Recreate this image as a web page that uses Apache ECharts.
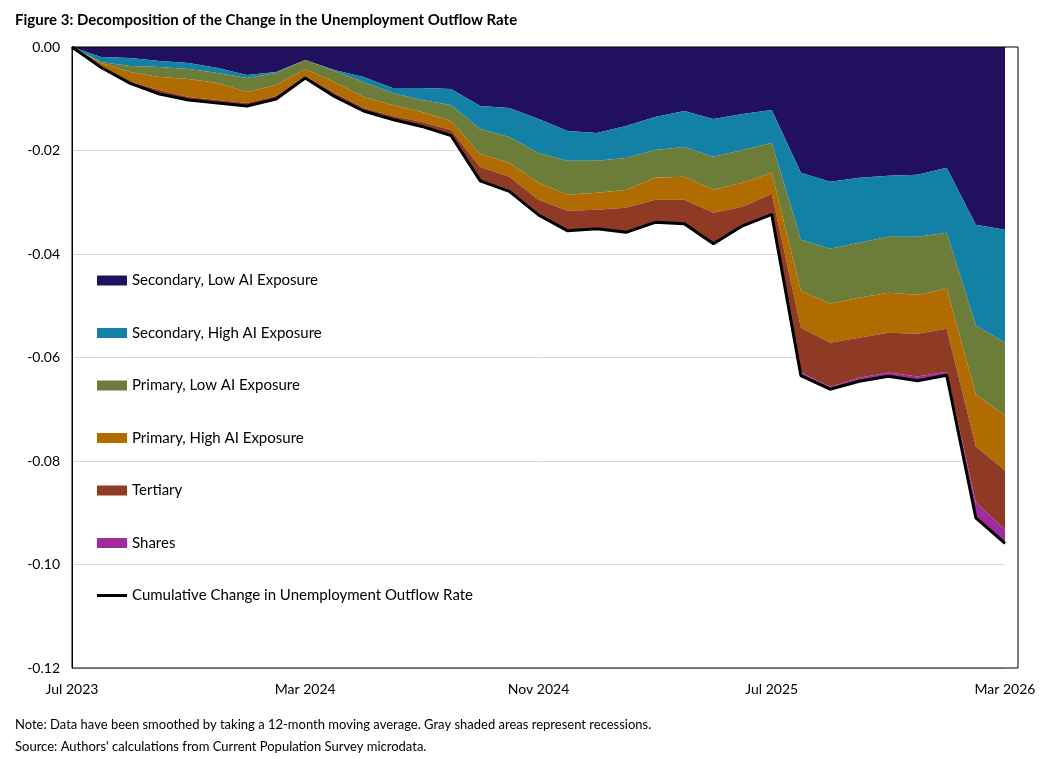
<!DOCTYPE html>
<html style="height: 100%">
<head>
<meta charset="utf-8">
<script src="https://cdn.jsdelivr.net/npm/echarts@6/dist/echarts.min.js"></script>
</head>
<body style="height: 100%; margin: 0; background: #fff">
<div id="container" style="width: 1044px; height: 759px"></div>
<script type="text/javascript">
// monthly, Jul 2023 .. Mar 2026 (values in thousandths, converted below)
var tickLabels = ['Jul 2023', 'Mar 2024', 'Nov 2024', 'Jul 2025', 'Mar 2026'];
var secLow  = [0,1.93,2.12,2.70,3.09,4.05,5.40,4.83,2.51,4.44,5.79,7.91,7.91,8.11,11.39,11.77,13.90,16.21,16.60,15.25,13.51,12.35,13.90,12.93,12.16,24.32,26.06,25.28,24.90,24.70,23.35,34.35,35.32];
var secHigh = [0,0.97,1.54,1.16,1.16,0.97,0.58,0.19,0,0.19,0.97,0.97,2.32,3.09,4.44,5.60,6.56,5.79,5.40,6.18,6.37,6.95,7.33,6.95,6.37,12.93,12.93,12.55,11.77,11.97,12.55,19.49,21.81];
var priLow  = [0,0.19,1.16,1.93,1.93,1.93,2.70,2.32,1.74,2.12,2.90,2.32,2.32,3.09,4.83,5.02,5.79,6.56,6.18,6.18,5.40,5.79,6.37,6.37,5.79,9.84,10.62,10.62,10.81,11.19,10.81,13.32,14.09];
var priHigh = [0,0.58,1.93,2.51,3.47,3.28,2.12,2.12,1.35,2.12,2.12,2.12,1.93,1.74,2.51,2.70,3.28,3.09,3.28,3.47,4.25,4.44,4.44,4.63,4.05,7.14,7.53,7.72,7.72,7.53,7.72,10.04,10.62];
var tertiary = [0,0.19,0.19,0.58,0.39,0.39,0.39,0.39,0.19,0.58,0.39,0.58,0.77,0.77,2.51,2.51,2.51,3.67,3.47,4.63,4.25,4.44,5.79,3.47,3.67,8.69,8.49,7.72,7.72,8.30,8.30,10.81,11.39];
var shares  = [0,0.1,0.1,0.2,0.2,0.2,0.2,0.2,0.2,0.1,0.2,0.1,0.1,0.3,0.2,0.3,0.4,0.2,0.2,0.1,0.1,0.2,0.2,0.2,0.3,0.6,0.5,0.7,0.7,0.8,0.7,3.0,2.7];

var names = ['Secondary, Low AI Exposure', 'Secondary, High AI Exposure', 'Primary, Low AI Exposure',
             'Primary, High AI Exposure', 'Tertiary', 'Shares'];
var parts = [secLow, secHigh, priLow, priHigh, tertiary, shares];
var colors = ['#21105e', '#1380a6', '#6b7d38', '#b06c00', '#8e3a24', '#a12a9e'];
var totalName = 'Cumulative Change in Unemployment Outflow Rate';

// month index categories; every 8th month gets a label
var months = secLow.map(function (v, i) { return i % 8 === 0 ? tickLabels[i / 8] : ''; });

function toVals(arr) {
    return arr.map(function (v) { return -v / 1000; });
}
var total = secLow.map(function (v, i) {
    var s = 0;
    parts.forEach(function (p) { s += p[i]; });
    return s;
});

var series = parts.map(function (p, k) {
    return {
        name: names[k], type: 'line', stack: 'dec', data: toVals(p),
        symbol: 'none', lineStyle: { width: 0 }, itemStyle: { color: colors[k] },
        areaStyle: { color: colors[k], opacity: 1 }
    };
});
series.push({
    name: totalName, type: 'line', data: toVals(total), symbol: 'none', z: 5,
    lineStyle: { width: 3, color: '#000' }, itemStyle: { color: '#000' }
});

var font = 'Lato, "Open Sans", sans-serif';
var legendData = names.map(function (n) { return { name: n, icon: 'rect' }; });
legendData.push({ name: totalName, icon: 'path://M0,0L0.01,0L0.01,0.01Z M0,3.5L30,3.5L30,6.5L0,6.5Z M0,9.99L0.01,10L0,10Z' });

var myChart = echarts.init(document.getElementById('container'));
var option = {
    animation: false,
    textStyle: { fontFamily: font },
    title: [{
        text: 'Figure 3: Decomposition of the Change in the Unemployment Outflow Rate',
        left: 10, top: 8,
        textStyle: { fontSize: 15, fontWeight: 'bold', color: '#000', fontFamily: font }
    }, {
        text: 'Note: Data have been smoothed by taking a 12-month moving average. Gray shaded areas represent recessions.\nSource: Authors\' calculations from Current Population Survey microdata.',
        left: 10, top: 709,
        textStyle: { fontSize: 13, fontWeight: 'normal', color: '#000', lineHeight: 22, fontFamily: font }
    }],
    legend: {
        orient: 'vertical', left: 92, top: 268, itemGap: 37.5,
        itemWidth: 30, itemHeight: 10, data: legendData,
        textStyle: { fontSize: 15, color: '#000', fontFamily: font }
    },
    // plot frame runs a little past the last month, as in the original
    graphic: [{
        type: 'rect', shape: { x: 72, y: 47, width: 946, height: 621 }, z: 100,
        style: { fill: null, stroke: '#000', lineWidth: 1 }, silent: true
    }],
    grid: { left: 72, right: 39, top: 47, bottom: 91 },
    xAxis: {
        type: 'category', boundaryGap: false, data: months,
        splitLine: { show: false }, axisTick: { show: false },
        axisLine: { lineStyle: { color: '#000' } },
        axisLabel: { fontSize: 14, color: '#000', margin: 14, interval: 0 }
    },
    yAxis: {
        type: 'value', min: -0.12, max: 0, interval: 0.02,
        axisLine: { show: true, lineStyle: { color: '#000' } }, axisTick: { show: false },
        splitLine: { lineStyle: { color: '#d9d9d9' } },
        axisLabel: { fontSize: 14, color: '#000', margin: 12, formatter: function (v) { return v.toFixed(2); } }
    },
    series: series
};
myChart.setOption(option);
</script>
</body>
</html>
